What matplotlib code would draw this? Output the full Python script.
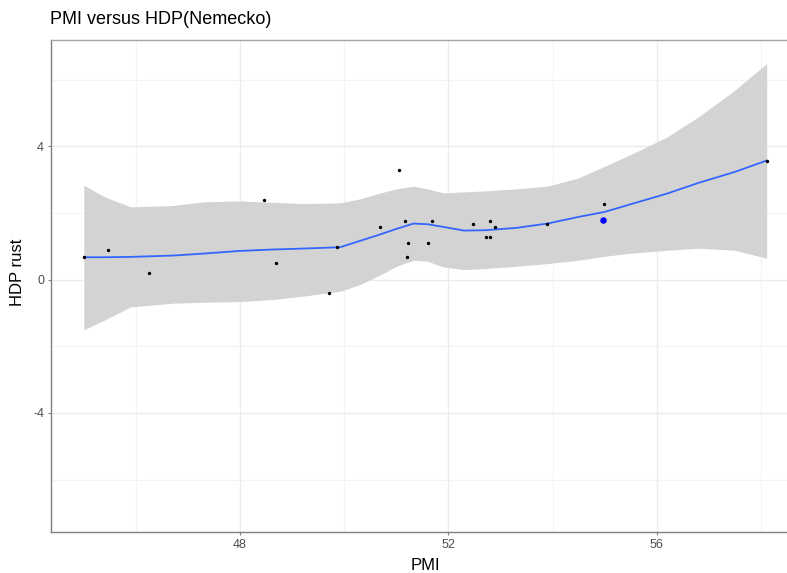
import matplotlib
matplotlib.use("Agg")
import matplotlib.pyplot as plt

plt.rcParams['font.family'] = ['Liberation Sans', 'DejaVu Sans']
plt.rcParams['axes.unicode_minus'] = False

# observed points
pmi = [45.01, 45.47, 46.26, 48.46, 48.69, 49.70, 49.86, 50.69, 51.06, 51.16,
       51.22, 51.20, 51.60, 51.69, 52.47, 52.73, 52.80, 52.79, 52.89, 53.90,
       54.99, 58.11]
hdp = [0.67, 0.88, 0.19, 2.38, 0.49, -0.41, 0.97, 1.58, 3.28, 1.77,
       1.09, 0.68, 1.09, 1.77, 1.68, 1.28, 1.28, 1.77, 1.58, 1.68,
       2.27, 3.57]

# highlighted point
hl_pmi = [54.97]
hl_hdp = [1.78]

# smoother
grid_pmi = [45.0, 45.4, 45.9, 46.7, 47.3, 48.0, 48.6, 49.2, 49.92, 50.3, 50.7,
            51.0, 51.33, 51.6, 51.9, 52.3, 52.7, 53.3, 53.9, 54.5, 55.0, 55.5,
            56.2, 56.8, 57.5, 58.11]
fit = [0.67, 0.67, 0.68, 0.72, 0.78, 0.86, 0.90, 0.93, 0.97, 1.16, 1.36,
       1.52, 1.68, 1.66, 1.58, 1.47, 1.48, 1.55, 1.68, 1.88, 2.03, 2.26,
       2.58, 2.90, 3.23, 3.57]
upper = [2.83, 2.48, 2.18, 2.22, 2.33, 2.36, 2.32, 2.28, 2.30, 2.42, 2.60,
         2.72, 2.80, 2.72, 2.60, 2.63, 2.66, 2.72, 2.80, 3.05, 3.40, 3.75,
         4.28, 4.88, 5.68, 6.48]
lower = [-1.51, -1.21, -0.82, -0.71, -0.68, -0.66, -0.60, -0.50, -0.35, -0.15, 0.15,
         0.40, 0.58, 0.55, 0.38, 0.30, 0.33, 0.40, 0.48, 0.58, 0.70, 0.79,
         0.88, 0.94, 0.88, 0.64]

W, H = 787, 573
fig = plt.figure(figsize=(W / 100, H / 100), dpi=100)
ax = fig.add_axes([51 / W, (H - 532) / H, (W - 51) / W, (532 - 39.5) / H])

ax.fill_between(grid_pmi, lower, upper, color='#d3d3d3', lw=0, zorder=2)
ax.plot(grid_pmi, fit, color='#3366ff', lw=1.3, zorder=3)
ax.scatter(pmi, hdp, s=6, color='black', lw=0, zorder=4)
ax.scatter(hl_pmi, hl_hdp, s=22, color='#0000ff', lw=0, zorder=5)

ax.set_xlim(44.37, 58.5)
ax.set_ylim(-7.57, 7.2)
ax.set_xticks([48, 52, 56])
ax.set_yticks([-4, 0, 4])
ax.set_xticks([46, 50, 54, 58], minor=True)
ax.set_yticks([-6, -2, 2, 6], minor=True)
ax.grid(True, which='major', color='#ebebeb', lw=1.0, zorder=0)
ax.grid(True, which='minor', color='#f3f3f3', lw=0.8, zorder=0)
ax.set_axisbelow(True)

ax.tick_params(which='major', length=2.5, width=0.8, color='#7f7f7f',
               labelsize=9, labelcolor='#4d4d4d', pad=2.5)
ax.tick_params(which='minor', length=0)

for side in ['left', 'bottom']:
    ax.spines[side].set_color('#7f7f7f')
    ax.spines[side].set_linewidth(1.0)
ax.spines['top'].set_color('#a6a6a6')
ax.spines['top'].set_linewidth(1.0)
ax.spines['right'].set_visible(False)

fig.text(50 / W, 1 - 20 / H, "PMI versus HDP(Nemecko)", fontsize=13,
         ha='left', va='center', color='black')
fig.text(425 / W, 1 - 566 / H, "PMI", fontsize=12, ha='center', va='center')
fig.text(18 / W, 1 - 272 / H, "HDP rust", fontsize=12, ha='center',
         va='center', rotation=90)

fig.savefig("out.png", dpi=100)
